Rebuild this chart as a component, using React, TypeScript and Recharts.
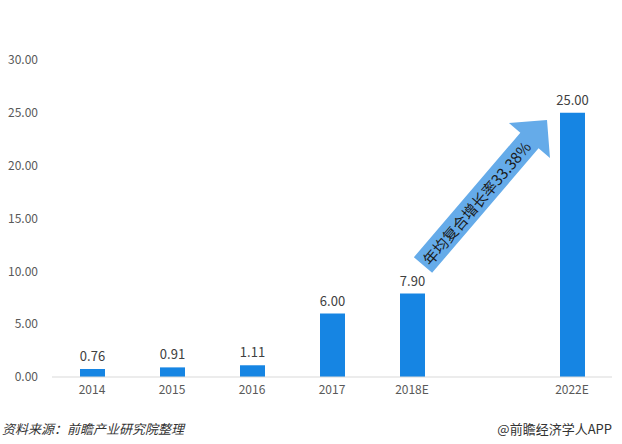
import React from "react";
import { BarChart, Bar, XAxis, YAxis, LabelList } from "recharts";

const categories = ["2014", "2015", "2016", "2017", "2018E", "", "2022E"];
const values: (number | null)[] = [0.76, 0.91, 1.11, 6.0, 7.9, null, 25.0];
const yTicks = [0, 5, 10, 15, 20, 25, 30];
const cagrLabel = "年均复合增长率33.38%";
const sourceText = "资料来源：前瞻产业研究院整理";
const brandText = "@前瞻经济学人APP";

const data = categories.map((c, i) => ({ name: c, value: values[i] }));

const FONT = "'Noto Sans CJK SC', 'DejaVu Sans', sans-serif";

// arrow annotation geometry
const T = { x: 423, y: 265 };
const P = { x: 547, y: 120 };
const dx = P.x - T.x;
const dy = P.y - T.y;
const L = Math.sqrt(dx * dx + dy * dy);
const u = { x: dx / L, y: dy / L };
const n = { x: -u.y, y: u.x };
const sw = 12;
const hw = 27;
const hl = 27;
const B = { x: P.x - hl * u.x, y: P.y - hl * u.y };
const pts = [
  [T.x - sw * n.x, T.y - sw * n.y],
  [B.x - sw * n.x, B.y - sw * n.y],
  [B.x - hw * n.x, B.y - hw * n.y],
  [P.x, P.y],
  [B.x + hw * n.x, B.y + hw * n.y],
  [B.x + sw * n.x, B.y + sw * n.y],
  [T.x + sw * n.x, T.y + sw * n.y],
]
  .map((p) => p.join(","))
  .join(" ");
const mid = { x: (T.x + B.x) / 2, y: (T.y + B.y) / 2 };
const angle = (Math.atan2(dy, dx) * 180) / Math.PI;

export default function App() {
  return (
    <div style={{ position: "absolute", left: 0, top: 0, width: 622, height: 444, background: "#fff", fontFamily: FONT }}>
      <BarChart width={622} height={444} data={data} margin={{ top: 60, right: 10, bottom: 37, left: 0 }}>
        <XAxis
          dataKey="name"
          tickLine={false}
          axisLine={{ stroke: "#d9d9d9" }}
          tick={{ fontSize: 12, fill: "#595959", fontFamily: FONT }}
          interval={0}
        />
        <YAxis
          width={52}
          domain={[0, 30]}
          ticks={yTicks}
          tickLine={false}
          axisLine={false}
          tickMargin={8}
          tickFormatter={(v: number) => v.toFixed(2)}
          tick={{ fontSize: 12, fill: "#595959", fontFamily: FONT }}
        />
        <Bar dataKey="value" fill="#1685e3" barSize={25} isAnimationActive={false}>
          <LabelList
            dataKey="value"
            position="top"
            offset={8}
            formatter={(v: any) => (v == null ? "" : Number(v).toFixed(2))}
            style={{ fontSize: 13, fill: "#404040", fontFamily: FONT }}
          />
        </Bar>
      </BarChart>
      <svg width={622} height={444} style={{ position: "absolute", left: 0, top: 0, pointerEvents: "none" }}>
        <polygon points={pts} fill="#65abe9" />
        <text
          x={mid.x}
          y={mid.y}
          transform={`rotate(${angle} ${mid.x} ${mid.y})`}
          textAnchor="middle"
          dominantBaseline="central"
          fontSize={15}
          fill="#1a1a1a"
          fontFamily={FONT}
        >
          {cagrLabel}
        </text>
        <text x={2} y={428} dominantBaseline="central" fontSize={13} fontStyle="italic" fill="#333" fontFamily={FONT}>
          {sourceText}
        </text>
        <text x={612} y={428} dominantBaseline="central" textAnchor="end" fontSize={13} fill="#333" fontFamily={FONT}>
          {brandText}
        </text>
      </svg>
    </div>
  );
}
